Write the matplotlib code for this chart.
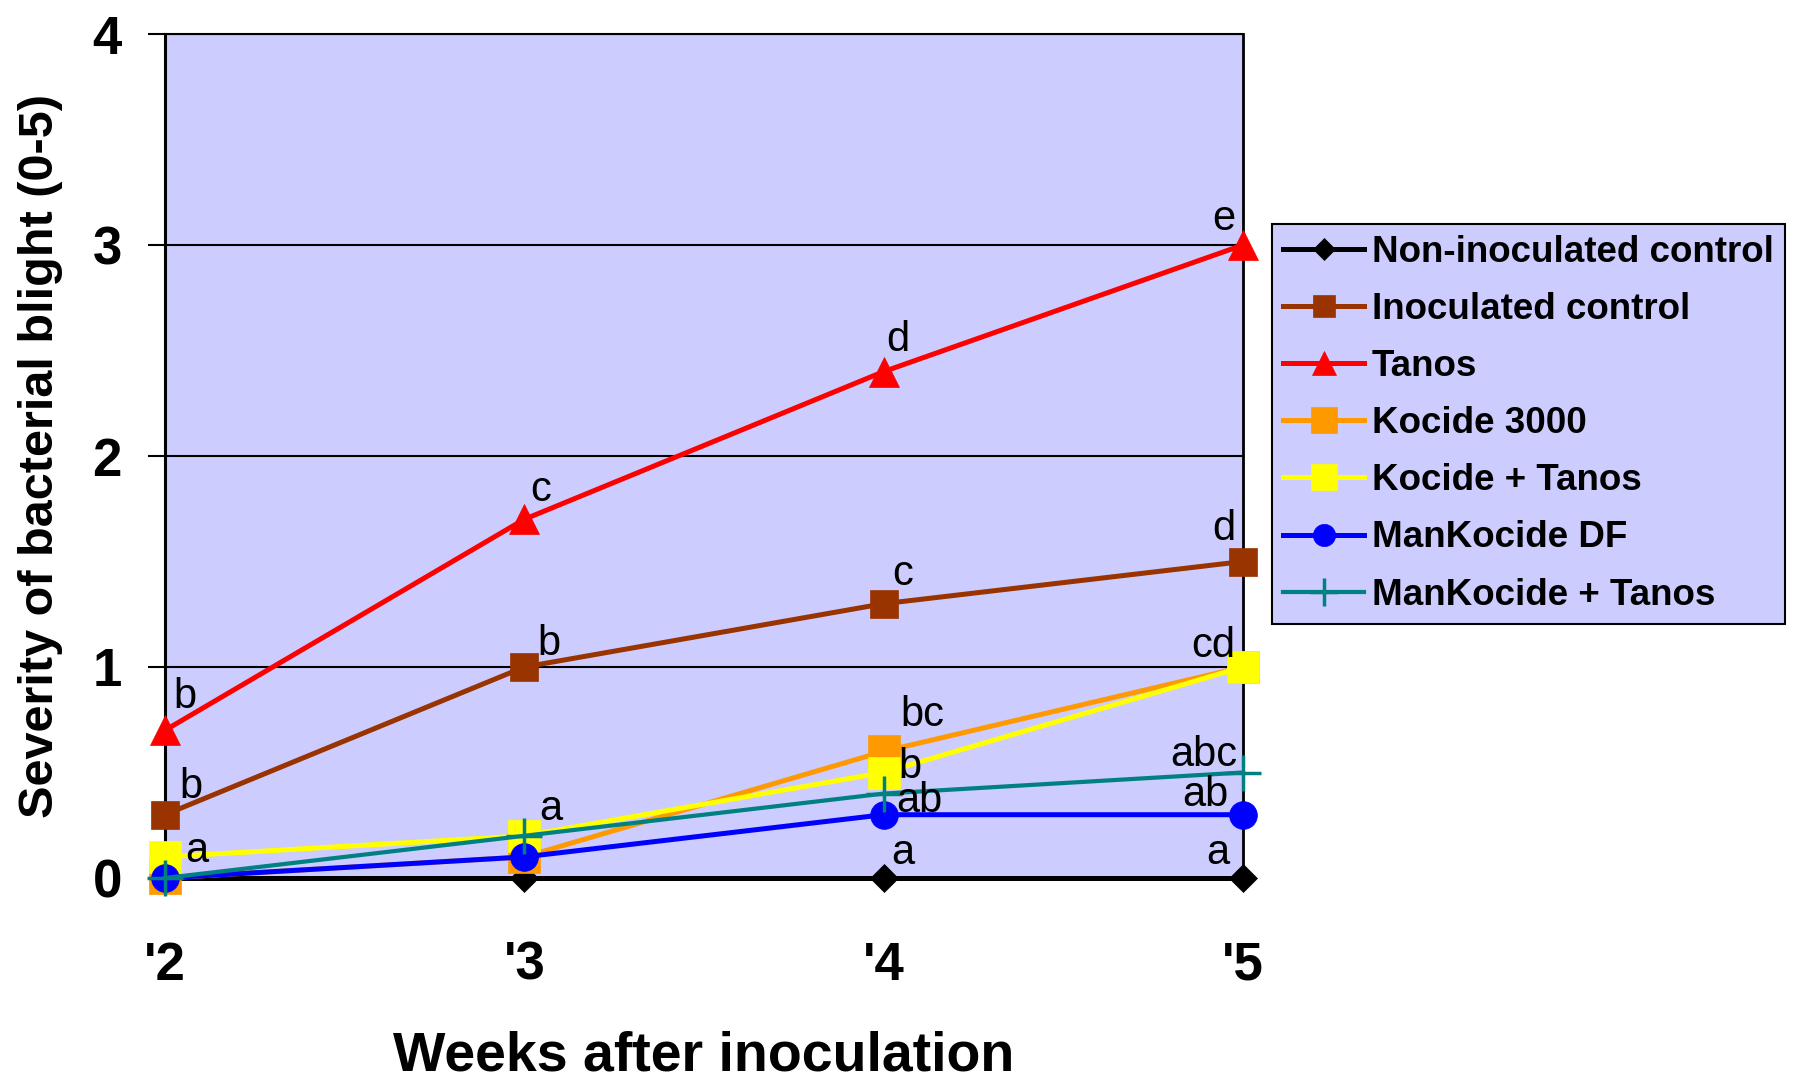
import matplotlib
matplotlib.use("Agg")
import matplotlib.pyplot as plt

plt.rcParams['font.family'] = ['Liberation Sans', 'DejaVu Sans']

# ---- data ----
weeks = [2, 3, 4, 5]
week_labels = ["'2", "'3", "'4", "'5"]
series_names = ["Non-inoculated control", "Inoculated control", "Tanos", "Kocide 3000",
                "Kocide + Tanos", "ManKocide DF", "ManKocide + Tanos"]
non_inoc = [0.0, 0.0, 0.0, 0.0]
inoc = [0.3, 1.0, 1.3, 1.5]
tanos = [0.7, 1.7, 2.4, 3.0]
kocide = [0.0, 0.1, 0.6, 1.0]
kocide_tanos = [0.1, 0.2, 0.5, 1.0]
mankocide = [0.0, 0.1, 0.3, 0.3]
mankocide_tanos = [0.0, 0.2, 0.4, 0.5]

letter_weeks = [2, 2, 2, 3, 3, 3, 4, 4, 4, 4, 4, 4, 5, 5, 5, 5, 5, 5]
letter_vals = [0.7, 0.3, 0.1, 1.7, 1.0, 0.2, 2.4, 1.3, 0.6, 0.5, 0.3, 0.0,
               3.0, 1.5, 1.0, 0.5, 0.3, 0.0]
letters = ['b', 'b', 'a', 'c', 'b', 'a', 'd', 'c', 'bc', 'b', 'ab', 'a',
           'e', 'd', 'cd', 'abc', 'ab', 'a']

# ---- styles / positions ----
letter_offsets = [(20, 33), (26, 28), (32, 6), (16, 29), (25, 23), (26, 27),
                  (14, 32), (19, 30), (39, 36), (26, 5), (36, 14), (19, 25),
                  (-8, 26), (-8, 32), (-8, 21), (-6, 17), (-15, 20), (-14, 25)]

styles = [
    dict(color='black', marker='D', ms=14, lw=3.6),
    dict(color='#993300', marker='s', ms=20, lw=3.6),
    dict(color='#FF0000', marker='^', ms=22, lw=3.6),
    dict(color='#FF9900', marker='s', ms=23, lw=3.6),
    dict(color='#FFFF00', marker='s', ms=23, lw=3.6),
    dict(color='#0000FF', marker='o', ms=20, lw=3.6),
    dict(color='#008080', marker='+', ms=26, lw=3.0),
]

W, H = 1793, 1080
fig = plt.figure(figsize=(W / 100, H / 100), dpi=100)
ax_l, ax_r, ax_t, ax_b = 165, 1243, 34, 878
ax = fig.add_axes([ax_l / W, 1 - ax_b / H, (ax_r - ax_l) / W, (ax_b - ax_t) / H])
ax.set_facecolor('#CCCCFF')

all_series = [non_inoc, inoc, tanos, kocide, kocide_tanos, mankocide, mankocide_tanos]
handles = []
for name, vals, st in zip(series_names, all_series, styles):
    mew = 2.5 if st['marker'] == '+' else 0.5
    h, = ax.plot(weeks, vals, color=st['color'], marker=st['marker'], markersize=st['ms'],
                 linewidth=st['lw'], markeredgecolor=st['color'], markeredgewidth=mew,
                 markerfacecolor=st['color'], clip_on=False, zorder=3, label=name)
    handles.append(h)

for wk, v, txt, (dx, dy) in zip(letter_weeks, letter_vals, letters, letter_offsets):
    ha = 'right' if dx < 0 else 'center'
    ax.annotate(txt, xy=(wk, v), xytext=(dx, dy), textcoords='offset pixels',
                ha=ha, va='center', fontsize=30, color='black', zorder=5,
                annotation_clip=False)

ax.set_xlim(2, 5)
ax.set_ylim(0, 4)
ax.set_yticks([0, 1, 2, 3, 4])
ax.set_yticklabels(['0', '1', '2', '3', '4'], fontsize=38, fontweight='bold')
ax.set_xticks(weeks)
ax.set_xticklabels(week_labels, fontsize=38, fontweight='bold')
ax.tick_params(axis='y', length=12, width=1.5, pad=19, color='black')
ax.tick_params(axis='x', length=0, pad=45)
ax.yaxis.grid(True, color='black', linewidth=1.5, zorder=1)
ax.set_axisbelow(True)

ax.spines['left'].set_linewidth(2.2)
ax.spines['bottom'].set_linewidth(3.5)
ax.spines['top'].set_linewidth(1.5)
ax.spines['right'].set_linewidth(2.0)

ax.set_xlabel('Weeks after inoculation', fontsize=40, fontweight='bold')
ax.xaxis.set_label_coords(0.5, -0.181)
ax.xaxis.label.set_va('top')
ax.set_ylabel('Severity of bacterial blight (0-5)', fontsize=35, fontweight='bold')
ax.yaxis.set_label_coords(-0.095, 0.5)

leg = fig.legend(handles=handles, loc='upper left', bbox_to_anchor=(1272 / W, 1 - 224 / H),
                 borderaxespad=0, prop=dict(size=26.5, weight='bold'), numpoints=1,
                 markerscale=0.8, handlelength=2.2, handletextpad=0.22,
                 labelspacing=0.6, borderpad=0.3, fancybox=False, framealpha=1,
                 facecolor='#CCCCFF', edgecolor='black')
leg.get_frame().set_linewidth(1.5)

fig.savefig('out.png', dpi=100)
